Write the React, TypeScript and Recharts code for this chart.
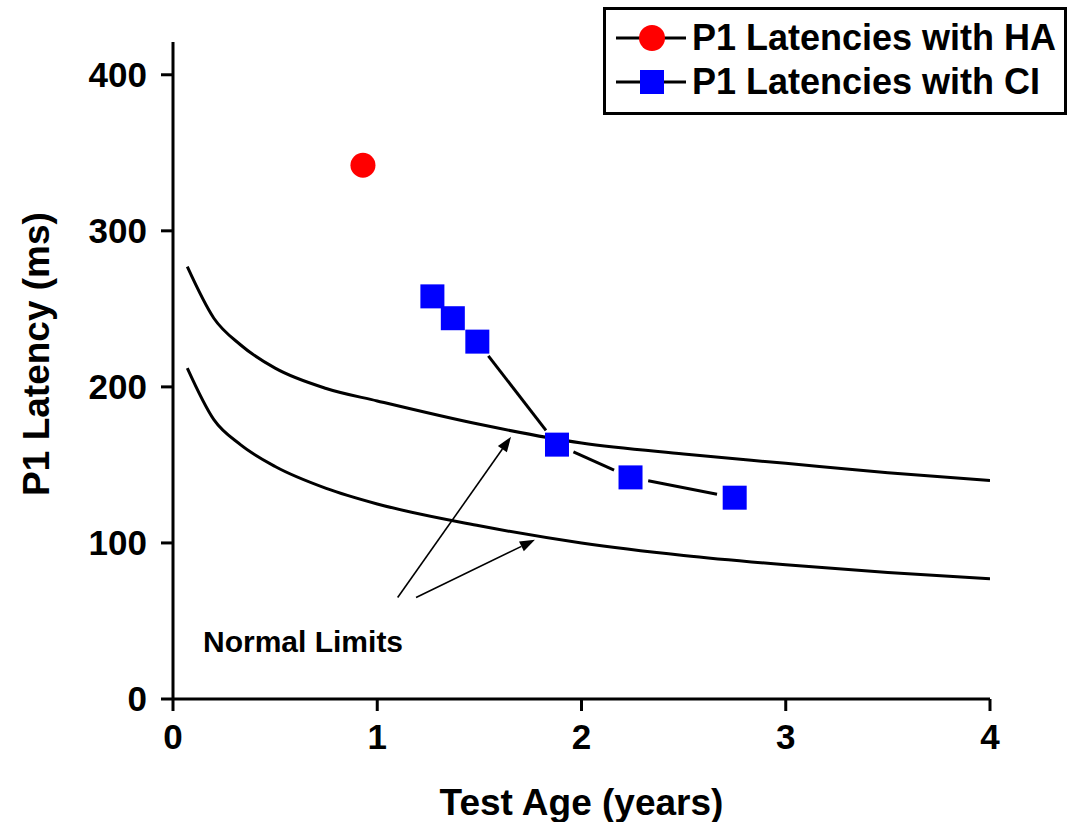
import {
  ComposedChart,
  Line,
  Scatter,
  XAxis,
  YAxis,
  Legend,
  ReferenceLine,
  ReferenceDot,
  Label,
} from "recharts";

// normal limit curves (upper / lower), sampled along test age
const limitAge = [0.07, 0.2, 0.33, 0.5, 0.75, 1, 1.5, 2, 2.5, 3, 3.5, 4];
const upperLimit = [277, 244, 227, 212, 199, 191, 176, 164, 157, 151, 145, 140];
const lowerLimit = [212, 179, 163, 149, 135, 125, 111, 100, 92, 86, 81, 77];

// P1 latencies with hearing aid
const haAge = [0.93];
const haLatency = [342];

// P1 latencies with cochlear implant
const ciAge = [1.27, 1.37, 1.49, 1.88, 2.24, 2.75];
const ciLatency = [258, 244, 229, 163, 142, 129];

const xTicks = [0, 1, 2, 3, 4];
const yTicks = [0, 100, 200, 300, 400];

// "Normal Limits" arrows: tail -> head, in data units
const arrowFromX = [1.1, 1.19];
const arrowFromY = [65, 65];
const arrowToX = [1.655, 1.772];
const arrowToY = [168, 102];

const FONT = "'Liberation Sans', Arial, Helvetica, sans-serif";
const HA_COLOR = "#ff0000";
const CI_COLOR = "#0000ff";

const upperData = limitAge.map((x, i) => ({ x, y: upperLimit[i] }));
const lowerData = limitAge.map((x, i) => ({ x, y: lowerLimit[i] }));
const haData = haAge.map((x, i) => ({ x, y: haLatency[i] }));
const ciData = ciAge.map((x, i) => ({ x, y: ciLatency[i] }));

// line between markers, leaving a gap around each marker
const GappedLine = (props: any) => {
  const { x1, y1, x2, y2 } = props;
  const gap = 18;
  const dx = x2 - x1;
  const dy = y2 - y1;
  const len = Math.sqrt(dx * dx + dy * dy);
  if (len <= gap * 2) return <g />;
  const ux = dx / len;
  const uy = dy / len;
  return (
    <line
      x1={x1 + ux * gap}
      y1={y1 + uy * gap}
      x2={x2 - ux * gap}
      y2={y2 - uy * gap}
      stroke="#000"
      strokeWidth={3}
    />
  );
};

const Arrow = (props: any) => {
  const { x1, y1, x2, y2 } = props;
  const dx = x2 - x1;
  const dy = y2 - y1;
  const len = Math.sqrt(dx * dx + dy * dy);
  const ux = dx / len;
  const uy = dy / len;
  const headLen = 15;
  const headW = 5.5;
  const bx = x2 - ux * headLen;
  const by = y2 - uy * headLen;
  const pts = `${x2},${y2} ${bx - uy * headW},${by + ux * headW} ${bx + uy * headW},${by - ux * headW}`;
  return (
    <g>
      <line x1={x1} y1={y1} x2={bx} y2={by} stroke="#000" strokeWidth={1.6} />
      <polygon points={pts} fill="#000" />
    </g>
  );
};

const renderLegend = () => (
  <div
    style={{
      width: 464,
      height: 108,
      boxSizing: "border-box",
      border: "3px solid #000",
      background: "#fff",
      fontFamily: FONT,
      fontWeight: "bold",
      fontSize: 36,
      color: "#000",
      paddingTop: 6,
    }}
  >
    {[
      { name: "P1 Latencies with HA", kind: "circle" },
      { name: "P1 Latencies with CI", kind: "square" },
    ].map((item) => (
      <div key={item.name} style={{ display: "flex", alignItems: "center", height: 44 }}>
        <svg width={86} height={30} style={{ marginLeft: 7, flexShrink: 0 }}>
          <line x1={3} y1={15} x2={73} y2={15} stroke="#000" strokeWidth={3} />
          {item.kind === "circle" ? (
            <circle cx={39} cy={15} r={13} fill={HA_COLOR} />
          ) : (
            <rect x={27} y={3} width={24} height={24} fill={CI_COLOR} />
          )}
        </svg>
        <span style={{ marginLeft: -7, whiteSpace: "nowrap" }}>{item.name}</span>
      </div>
    ))}
  </div>
);

export default function App() {
  const axisStyle = { stroke: "#000", strokeWidth: 3 };
  const tickStyle = { fontSize: 35, fontWeight: "bold", fill: "#000", fontFamily: FONT };
  const titleStyle = { fontSize: 37, fontWeight: "bold", fill: "#000", fontFamily: FONT };

  return (
    <div style={{ position: "absolute", left: 0, top: 0, background: "#fff" }}>
      <ComposedChart
        width={1078}
        height={822}
        margin={{ top: 42, right: 88, bottom: 0, left: 0 }}
        style={{ fontFamily: FONT }}
      >
        <XAxis
          type="number"
          dataKey="x"
          domain={[0, 4]}
          ticks={xTicks}
          allowDataOverflow
          height={123}
          axisLine={axisStyle}
          tickLine={axisStyle}
          tickSize={12}
          tickMargin={13}
          tick={tickStyle}
        >
          <Label value="Test Age (years)" position="insideBottom" offset={7} style={titleStyle} />
        </XAxis>
        <YAxis
          type="number"
          dataKey="y"
          domain={[0, 421]}
          ticks={yTicks}
          allowDataOverflow
          width={173}
          axisLine={axisStyle}
          tickLine={axisStyle}
          tickSize={12}
          tickMargin={14}
          tick={tickStyle}
        >
          <Label
            content={() => (
              <text
                x={36}
                y={354}
                transform="rotate(-90 36 354)"
                textAnchor="middle"
                dominantBaseline="central"
                style={titleStyle}
              >
                P1 Latency (ms)
              </text>
            )}
          />
        </YAxis>

        <Line
          data={upperData}
          dataKey="y"
          type="monotone"
          stroke="#000"
          strokeWidth={3}
          dot={false}
          activeDot={false}
          isAnimationActive={false}
          legendType="none"
        />
        <Line
          data={lowerData}
          dataKey="y"
          type="monotone"
          stroke="#000"
          strokeWidth={3}
          dot={false}
          activeDot={false}
          isAnimationActive={false}
          legendType="none"
        />

        {ciData.slice(1).map((p, i) => (
          <ReferenceLine
            key={`ci-seg-${i}`}
            segment={[
              { x: ciData[i].x, y: ciData[i].y },
              { x: p.x, y: p.y },
            ]}
            shape={GappedLine}
          />
        ))}

        {arrowFromX.map((x, i) => (
          <ReferenceLine
            key={`arrow-${i}`}
            segment={[
              { x, y: arrowFromY[i] },
              { x: arrowToX[i], y: arrowToY[i] },
            ]}
            shape={Arrow}
          />
        ))}

        <ReferenceDot
          x={0.147}
          y={37}
          r={0}
          shape={(p: any) => (
            <text
              x={p.cx}
              y={p.cy}
              dominantBaseline="central"
              style={{ fontSize: 30, fontWeight: "bold", fill: "#000", fontFamily: FONT }}
            >
              Normal Limits
            </text>
          )}
        />

        <Scatter
          name="P1 Latencies with HA"
          data={haData}
          dataKey="y"
          fill={HA_COLOR}
          isAnimationActive={false}
          shape={(p: any) => <circle cx={p.cx} cy={p.cy} r={12.5} fill={HA_COLOR} />}
        />
        <Scatter
          name="P1 Latencies with CI"
          data={ciData}
          dataKey="y"
          fill={CI_COLOR}
          isAnimationActive={false}
          shape={(p: any) => (
            <rect x={p.cx - 12} y={p.cy - 12} width={24} height={24} fill={CI_COLOR} />
          )}
        />

        <Legend
          layout="vertical"
          align="center"
          verticalAlign="middle"
          content={renderLegend}
          wrapperStyle={{ top: 7, left: 603, width: 464, height: 108 }}
        />
      </ComposedChart>
    </div>
  );
}
